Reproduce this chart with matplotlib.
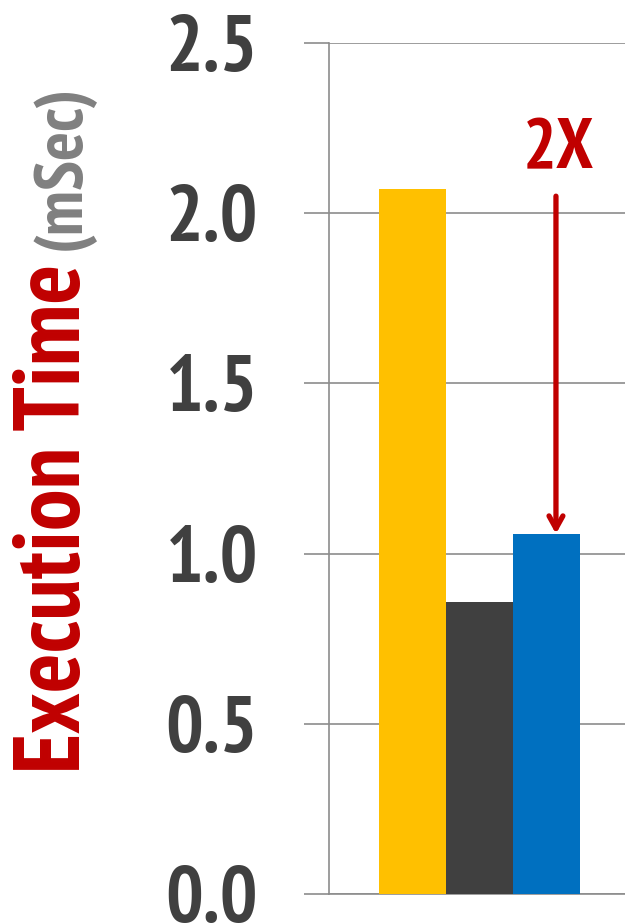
import matplotlib
matplotlib.use("Agg")
from matplotlib import pyplot as plt
from matplotlib import font_manager

# bar values (mSec)
labels = ["A", "B", "C"]
times = [2.07, 0.858, 1.058]
colors = ["#FFC000", "#404040", "#0070C0"]
yticks = [0.0, 0.5, 1.0, 1.5, 2.0, 2.5]
speedup_label = "2X"

names = {f.name for f in font_manager.fontManager.ttflist}
FONT = next((n for n in ["PT Sans Narrow", "Fira Sans Condensed", "Liberation Sans Narrow"]
             if n in names), "DejaVu Sans")

RED = "#C00000"
GRID = "#8C8C8C"

fig = plt.figure(figsize=(6.25, 9.23), dpi=100)
ax = fig.add_axes([329 / 625, 29 / 923, 296 / 625, 851 / 923])

x = list(range(len(times)))
ax.bar(x, times, width=1.0, color=colors, zorder=3)

ax.set_ylim(0, 2.5)
ax.set_xlim(-1.246, 3.17)
ax.set_yticks(yticks)
ax.set_yticklabels([f"{v:.1f}" for v in yticks], fontfamily=FONT,
                   fontweight="bold", fontsize=57, color="#404040")
ax.set_xticks([])
ax.tick_params(axis="y", direction="out", length=18, width=1.2,
               color=GRID, pad=33)
ax.yaxis.grid(True, color=GRID, linewidth=1.2, zorder=0)
for side in ["top", "right"]:
    ax.spines[side].set_visible(False)
for side in ["left", "bottom"]:
    ax.spines[side].set_color(GRID)
    ax.spines[side].set_linewidth(1.2)
for lbl in ax.get_yticklabels():
    lbl.set_clip_on(False)

# speedup arrow down onto the last bar
arrow_x = 2.14
ax.annotate("", xy=(arrow_x, times[2]), xytext=(arrow_x, 2.05),
            arrowprops=dict(arrowstyle="->,head_length=0.9,head_width=0.5",
                            color=RED, lw=3.8, shrinkA=0, shrinkB=0),
            zorder=4)
ax.text(arrow_x + 0.03, 2.09, speedup_label, ha="center", va="bottom",
        fontfamily=FONT, fontweight="bold", fontsize=51, color=RED)

# two-colour rotated y label
t1 = fig.text(80 / 625, 1 - 773 / 923, "Execution Time", rotation=90,
              rotation_mode="anchor", ha="left", va="baseline",
              fontfamily=FONT, fontweight="bold", fontsize=67, color=RED)
fig.canvas.draw()
top = t1.get_window_extent().y1
t2 = fig.text(80 / 625, (top + 14) / 923, "(mSec)", rotation=90,
              rotation_mode="anchor", ha="left", va="baseline",
              fontfamily=FONT, fontweight="bold", fontsize=49, color="#808080")

fig.savefig("out.png", dpi=100)
